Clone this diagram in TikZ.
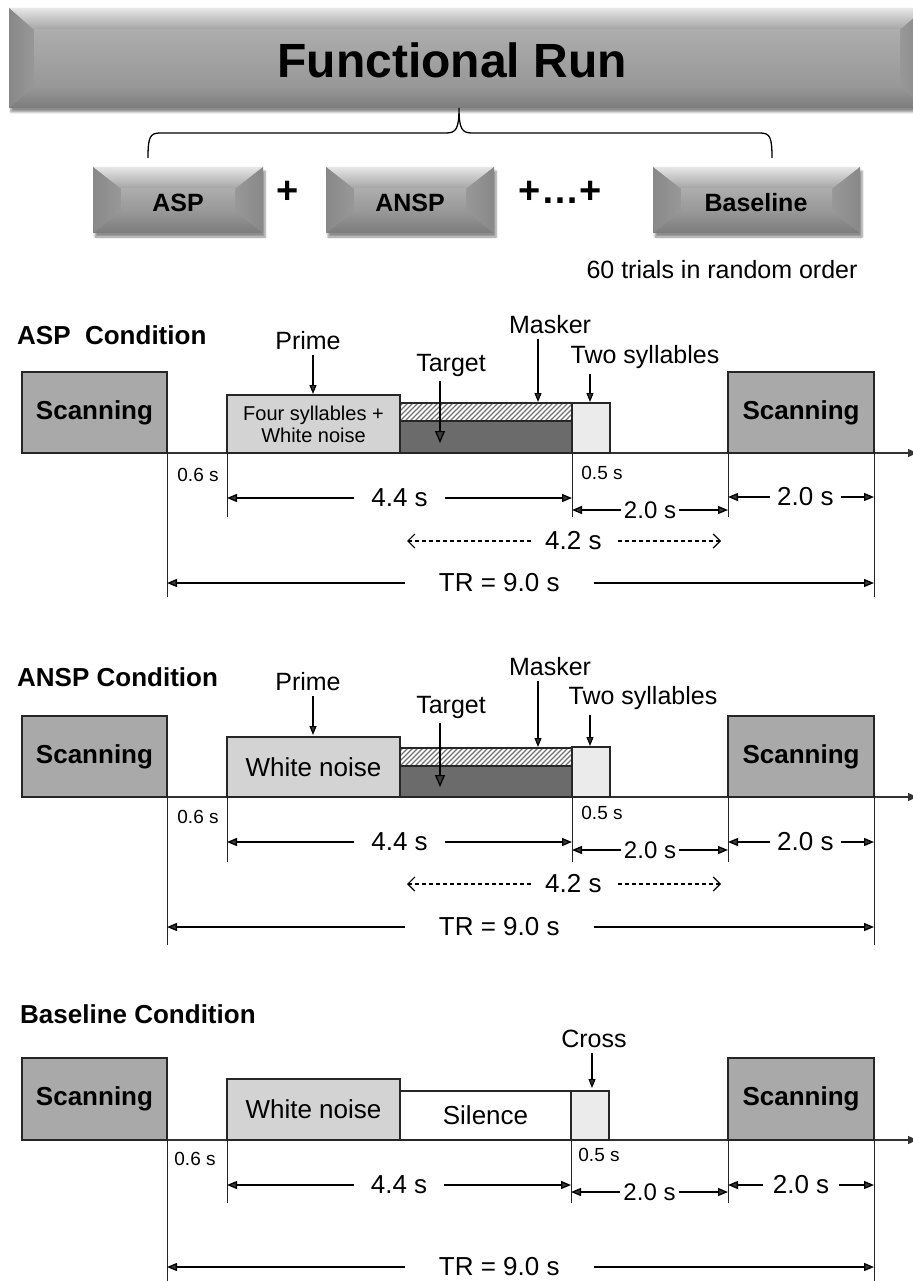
\documentclass[tikz,border=0pt]{standalone}
\usepackage{fontspec}
\setmainfont{Liberation Sans}
\usetikzlibrary{arrows.meta}
\usetikzlibrary{shadows.blur}

\definecolor{faceGray}{HTML}{989898}
\definecolor{bevTop}{HTML}{E6E6E6}
\definecolor{bevSide}{HTML}{888888}
\definecolor{bevBot}{HTML}{7C7C7C}
\definecolor{scanGray}{HTML}{A9A9A9}
\definecolor{primeGray}{HTML}{D3D3D3}
\definecolor{targetGray}{HTML}{6B6B6B}
\definecolor{syllGray}{HTML}{EBEBEB}

% bevelled button: x1,y1,x2,y2,bevel x,bevel y
\newcommand{\bevbox}[6]{%
  \path[blur shadow={shadow xshift=2pt,shadow yshift=-4pt,shadow opacity=45,shadow blur steps=6}] (#1,#2) rectangle (#3,#4);
  \fill[faceGray] (#1,#2) rectangle (#3,#4);
  \shade[top color=bevTop,bottom color=faceGray!90!white] (#1,#2) -- (#3,#2) -- (#3-#5,#2+#6) -- (#1+#5,#2+#6) -- cycle;
  \shade[top color=faceGray,bottom color=bevBot] (#1,#4) -- (#3,#4) -- (#3-#5,#4-#6) -- (#1+#5,#4-#6) -- cycle;
  \shade[left color=bevSide,right color=faceGray] (#1,#2) -- (#1+#5,#2+#6) -- (#1+#5,#4-#6) -- (#1,#4) -- cycle;
  \shade[left color=faceGray,right color=bevSide] (#3,#2) -- (#3-#5,#2+#6) -- (#3-#5,#4-#6) -- (#3,#4) -- cycle;
  \shade[top color=faceGray!80!white,bottom color=faceGray] (#1+#5,#2+#6) rectangle (#3-#5,#4-#6);
}

% masker strip: x1,y1,x2,y2 (hatched)
\newcommand{\maskstrip}[4]{%
  \fill[white] (#1,#2) rectangle (#3,#4);
  \begin{scope}
    \clip (#1,#2) rectangle (#3,#4);
    \foreach \k in {-30,-25,...,180}
      \draw[black!55,line width=1.3pt] (#1+\k,#4) -- ++(#4-#2,#2-#4);
  \end{scope}
  \draw[draw=black!85,line width=1.3pt] (#1,#2) rectangle (#3,#4);
}

\begin{document}
\begin{tikzpicture}[x=1pt,y=1pt,yscale=-1,xscale=1,
  boxline/.style={draw=black!85,line width=1.3pt},
  tline/.style={draw=black!80,line width=1.3pt,->,>={Triangle[length=9pt,width=8pt]}},
  tick/.style={draw=black!85,line width=1pt},
  scanbox/.style={boxline,fill=scanGray,minimum width=145,minimum height=81,inner sep=0pt,font=\fontsize{26}{30}\selectfont\bfseries},
  cond/.style={anchor=west,inner sep=0pt,font=\fontsize{26}{30}\selectfont\bfseries},
  btn/.style={inner sep=0pt,font=\fontsize{25}{28}\selectfont\bfseries},
  lbl/.style={inner sep=1pt,font=\fontsize{25}{28}\selectfont},
  small/.style={inner sep=1pt,font=\fontsize{19}{22}\selectfont},
  dlbl/.style={fill=white,inner ysep=1pt,font=\fontsize{26}{30}\selectfont},
  dim/.style={line width=1.3pt,<->,>={Triangle[length=10pt,width=8pt]}},
  dashdim/.style={line width=1.2pt,dash pattern=on 4pt off 3pt,<->,>={Straight Barb[length=7pt,width=14pt,line width=1.2pt]}},
  pointer/.style={line width=1.2pt,->,>={Triangle[length=9pt,width=7pt]},shorten <=4pt},
  bigpointer/.style={line width=1.2pt,->,>={Triangle[length=12pt,width=10pt]},shorten <=4pt}
]
\useasboundingbox (0,0) rectangle (912,1281);

%%% top: functional run
\bevbox{9}{8}{925}{108}{25}{22}
\node[inner sep=0pt,font=\fontsize{48}{54}\selectfont\bfseries] (run) at (452,60) {Functional Run};

% brace
\draw[line width=1.3pt] (148,158) .. controls (148,137) and (150,133) .. (160,133) -- (446,133) .. controls (456,133) and (459,129) .. (459,108) .. controls (459,129) and (462,133) .. (472,133) -- (760,133) .. controls (770,133) and (772,137) .. (772,158);

\bevbox{93}{167}{263}{233}{28}{22}
\bevbox{326}{167}{494}{233}{28}{22}
\bevbox{653}{167}{860}{233}{28}{22}
\node[btn] (aspBtn) at (178,203) {ASP};
\node[btn] (ansBtn) at (410,203) {ANSP};
\node[btn] (baseBtn) at (756,203) {Baseline};
\node[inner sep=0pt,font=\fontsize{38}{40}\selectfont\bfseries] (plusA) at (288,192) {+};
\node[inner sep=0pt,font=\fontsize{38}{40}\selectfont\bfseries] (plusB) at (560,192) {+\dots+};
\node[lbl] (trials) at (722,270) {60 trials in random order};

%%% ASP condition
\node[cond] (aspCond) at (17,335) {ASP~~Condition};
\draw[tline] (22,453) -- (917,453);
\draw[tick] (167,453) -- (167,597);
\draw[tick] (227,453) -- (227,517);
\draw[tick] (572,453) -- (572,517);
\draw[tick] (728,453) -- (728,517);
\draw[tick] (874,453) -- (874,597);
\node[scanbox] (aspScanA) at (94.5,412.5) {Scanning};
\node[scanbox,minimum width=146] (aspScanB) at (801,412.5) {Scanning};
\node[boxline,fill=primeGray,minimum width=173,minimum height=58,inner sep=0pt,align=center,font=\fontsize{20}{22}\selectfont] (aspPrimeBox) at (313.5,424) {Four syllables +\\White noise};
\maskstrip{400}{403}{572}{421}
\draw[boxline,fill=targetGray] (400,421) rectangle (572,453);
\draw[boxline,fill=syllGray] (572,403) rectangle (610,453);

\node[lbl] (aspPrime) at (308,341) {Prime};
\node[lbl] (aspMasker) at (550,325) {Masker};
\node[lbl] (aspTarget) at (451,365) {Target};
\node[lbl] (aspTwo) at (645,357) {Two syllables};
\draw[pointer] (aspPrime.south -| 313,0) -- (313,394);
\draw[pointer] (aspMasker.south -| 538,0) -- (538,402);
\draw[bigpointer] (aspTarget.south -| 440,0) -- (440,443);
\draw[pointer] (aspTwo.south -| 590,0) -- (590,402);

\node[small] (aspGap) at (198,475) {0.6 s};
\node[small] (aspCrs) at (602,473) {0.5 s};
\draw[dim] (227,498) -- node[dlbl,inner xsep=17pt] (asp44) {4.4 s} (572,498);
\draw[dim] (572,510) -- node[dlbl,inner xsep=3pt,font=\fontsize{24}{28}\selectfont] (asp20a) {2.0 s} (728,510);
\draw[dim] (728,497) -- node[dlbl,inner xsep=7pt,pos=0.53] (asp20b) {2.0 s} (874,497);
\draw[dashdim] (407,541) -- node[dlbl,inner xsep=14pt,pos=0.53] (asp42) {4.2 s} (721,541);
\draw[dim] (167,583) -- node[dlbl,inner xsep=34pt,pos=0.47] (aspTR) {TR = 9.0 s} (874,583);

%%% ANSP condition
\node[cond] (ansCond) at (17,677) {ANSP Condition};
\draw[tline] (22,797) -- (917,797);
\draw[tick] (167,797) -- (167,945);
\draw[tick] (227,797) -- (227,862);
\draw[tick] (572,797) -- (572,862);
\draw[tick] (728,797) -- (728,862);
\draw[tick] (874,797) -- (874,945);
\node[scanbox] (ansScanA) at (94.5,756.5) {Scanning};
\node[scanbox,minimum width=146] (ansScanB) at (801,756.5) {Scanning};
\node[boxline,fill=primeGray,minimum width=173,minimum height=60,inner sep=0pt,font=\fontsize{26}{30}\selectfont] (ansPrimeBox) at (313.5,767) {White noise};
\maskstrip{400}{748}{572}{766}
\draw[boxline,fill=targetGray] (400,766) rectangle (572,797);
\draw[boxline,fill=syllGray] (572,747) rectangle (610,797);

\node[lbl] (ansPrime) at (308,682) {Prime};
\node[lbl] (ansMasker) at (550,667) {Masker};
\node[lbl] (ansTarget) at (451,707) {Target};
\node[lbl] (ansTwo) at (643,698) {Two syllables};
\draw[pointer] (ansPrime.south -| 313,0) -- (313,735);
\draw[pointer] (ansMasker.south -| 538,0) -- (538,747);
\draw[bigpointer] (ansTarget.south -| 440,0) -- (440,787);
\draw[pointer] (ansTwo.south -| 590,0) -- (590,746);

\node[small] (ansGap) at (198,817) {0.6 s};
\node[small] (ansCrs) at (602,813) {0.5 s};
\draw[dim] (227,842) -- node[dlbl,inner xsep=17pt] (ans44) {4.4 s} (572,842);
\draw[dim] (572,850) -- node[dlbl,inner xsep=3pt,font=\fontsize{24}{28}\selectfont] (ans20a) {2.0 s} (728,850);
\draw[dim] (728,842) -- node[dlbl,inner xsep=7pt,pos=0.53] (ans20b) {2.0 s} (874,842);
\draw[dashdim] (407,884) -- node[dlbl,inner xsep=14pt,pos=0.53] (ans42) {4.2 s} (721,884);
\draw[dim] (167,927) -- node[dlbl,inner xsep=34pt,pos=0.47] (ansTR) {TR = 9.0 s} (874,927);

%%% Baseline condition
\node[cond] (baseCond) at (20,1014) {Baseline Condition};
\draw[tline] (22,1140) -- (917,1140);
\draw[tick] (167,1140) -- (167,1281);
\draw[tick] (227,1140) -- (227,1203);
\draw[tick] (571,1140) -- (571,1203);
\draw[tick] (728,1140) -- (728,1203);
\draw[tick] (874,1140) -- (874,1281);
\node[scanbox,minimum height=82] (baseScanA) at (94.5,1099) {Scanning};
\node[scanbox,minimum width=146,minimum height=82] (baseScanB) at (801,1099) {Scanning};
\node[boxline,fill=primeGray,minimum width=173,minimum height=61,inner sep=0pt,font=\fontsize{26}{30}\selectfont] (baseNoise) at (313.5,1109.5) {White noise};
\node[boxline,fill=white,minimum width=171,minimum height=49,inner sep=0pt,font=\fontsize{26}{30}\selectfont] (baseSilence) at (485.5,1115.5) {Silence};
\draw[boxline,fill=syllGray] (571,1091) rectangle (609,1140);

\node[lbl] (baseCross) at (594,1039) {Cross};
\draw[pointer] (baseCross.south -| 592,0) -- (592,1088);

\node[small] (baseGap) at (195,1159) {0.6 s};
\node[small] (baseCrs) at (599,1155) {0.5 s};
\draw[dim] (227,1185) -- node[dlbl,inner xsep=17pt] (base44) {4.4 s} (571,1185);
\draw[dim] (571,1192) -- node[dlbl,inner xsep=3pt,font=\fontsize{24}{28}\selectfont] (base20a) {2.0 s} (728,1192);
\draw[dim] (728,1185) -- node[dlbl,inner xsep=10pt,pos=0.5] (base20b) {2.0 s} (874,1185);
\draw[dim] (167,1267) -- node[dlbl,inner xsep=34pt,pos=0.47] (baseTR) {TR = 9.0 s} (874,1267);

\end{tikzpicture}
\end{document}
